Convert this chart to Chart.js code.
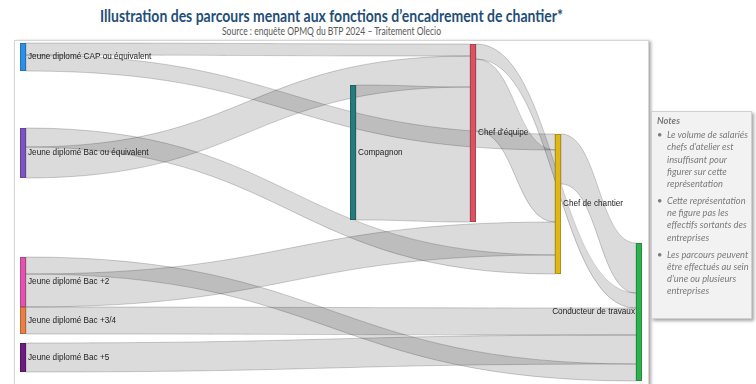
<!DOCTYPE html>
<html><head><meta charset="utf-8">
<script src="https://cdn.jsdelivr.net/npm/chart.js@4.4.1/dist/chart.umd.min.js"></script>
<style>
html,body{margin:0;padding:0;background:#fff;width:756px;height:384px;overflow:hidden;}
body{position:relative;font-family:"Liberation Sans",Arial,sans-serif;}
.fit{position:absolute;white-space:nowrap;transform-origin:0 0;font-family:Lato,"Liberation Sans",sans-serif;}
#title{top:5px;font-weight:bold;font-size:17.5px;color:#1F4E79;}
#sub{top:25px;font-size:10.5px;color:#595959;}
#frame{position:absolute;left:14px;top:40px;width:633px;height:360px;border:1px solid #d6d6d6;box-shadow:2px 1px 3px rgba(0,0,0,0.35);background:#fff;}
#wrap{position:absolute;left:0;top:0;width:756px;height:384px;}
#notes{position:absolute;left:651px;top:111px;width:92px;height:199px;padding:3px 2px 4px 5px;background:#f2f2f2;border:1px solid #d0d0d0;box-shadow:2px 2px 3px rgba(0,0,0,0.35);font-family:Lato,"Liberation Sans",sans-serif;font-style:italic;color:#7a7a7a;font-size:9.3px;line-height:12.2px;white-space:nowrap;}
#notes b{display:block;font-size:9.3px;margin-bottom:2px;}
#notes .li{position:relative;padding-left:10px;margin-bottom:4.8px;}
#notes .li:before{content:"•";position:absolute;left:0;top:0;font-style:normal;}
</style></head>
<body>
<div id="title" class="fit" data-l="100" data-r="563">Illustration des parcours menant aux fonctions d’encadrement de chantier*</div>
<div id="sub" class="fit" data-l="222" data-r="441">Source : enquête OPMQ du BTP 2024 – Traitement Olecio</div>
<div id="frame"></div>
<div id="wrap"><canvas id="c" width="756" height="384"></canvas></div>
<div id="notes"><b>Notes</b>
<div class="li">Le volume de salariés<br>chefs d’atelier est<br>insuffisant pour<br>figurer sur cette<br>représentation</div>
<div class="li">Cette représentation<br>ne figure pas les<br>effectifs sortants des<br>entreprises</div>
<div class="li">Les parcours peuvent<br>être effectués au sein<br>d’une ou plusieurs<br>entreprises</div>
</div>
<script>
// ---- DATA ----
const nodeNames = ["Jeune diplomé CAP ou équivalent","Jeune diplomé Bac ou équivalent","Jeune diplomé Bac +2","Jeune diplomé Bac +3/4","Jeune diplomé Bac +5","Compagnon","Chef d'équipe","Chef de chantier","Conducteur de travaux"];
const linkSource = ["Jeune diplomé CAP ou équivalent","Jeune diplomé CAP ou équivalent","Jeune diplomé Bac ou équivalent","Jeune diplomé Bac ou équivalent","Jeune diplomé Bac +2","Jeune diplomé Bac +2","Jeune diplomé Bac +3/4","Jeune diplomé Bac +5","Compagnon","Chef d'équipe","Chef d'équipe","Chef de chantier"];
const linkTarget = ["Chef d'équipe","Chef de chantier","Chef de chantier","Chef d'équipe","Conducteur de travaux","Chef de chantier","Conducteur de travaux","Conducteur de travaux","Chef d'équipe","Conducteur de travaux","Chef de chantier","Conducteur de travaux"];
const linkValue = [12,16,19,31,17,33,27,29,135,15,72,50];

// ---- LAYOUT / STYLE (not data) ----
const nodeColors = ["#2E8FE8","#7B55C4","#E253AE","#E97F45","#6E1A80","#267C7C","#DB5360","#E2B714","#2DB14E"];
const nodeStage = [0,0,0,0,0,330,450,535,616];      // x scale units
const nodeTop   = [1,86,215,265,301,43,2,92,201];   // y scale units
const inOrder = {6:[0,3,8], 7:[1,10,5,2], 8:[11,9,6,7,4]};
const outOrder = {0:[0,1],1:[2,3],2:[4,5],3:[6],4:[7],5:[8],6:[9,10],7:[11]};
const NODE_W = 6;

document.querySelectorAll('.fit').forEach(el=>{
  const l=+el.dataset.l, r=+el.dataset.r;
  const w=el.getBoundingClientRect().width;
  el.style.left=l+'px';
  el.style.transform='scaleX('+((r-l)/w)+')';
});

const sankeyPlugin = {
  id:'sankey',
  afterDatasetsDraw(chart){
    const ctx = chart.ctx, xs = chart.scales.x, ys = chart.scales.y;
    const n = nodeNames.length;
    const idx = name => nodeNames.indexOf(name);
    const src = linkSource.map(idx), tgt = linkTarget.map(idx);
    const inSum = new Array(n).fill(0), outSum = new Array(n).fill(0);
    linkValue.forEach((v,i)=>{outSum[src[i]]+=v; inSum[tgt[i]]+=v;});
    const nodes = nodeNames.map((nm,i)=>{
      const val = Math.max(inSum[i],outSum[i]);
      return {x:xs.getPixelForValue(nodeStage[i]), y0:ys.getPixelForValue(nodeTop[i]), y1:ys.getPixelForValue(nodeTop[i]+val)};
    });
    const sOff = [], tOff = [];
    for(const k in outOrder){ let acc=nodeTop[k]; outOrder[k].forEach(li=>{sOff[li]=acc; acc+=linkValue[li];}); }
    for(const k in inOrder){ let acc=nodeTop[k]; inOrder[k].forEach(li=>{tOff[li]=acc; acc+=linkValue[li];}); }
    ctx.save();
    linkValue.forEach((v,i)=>{
      const s = nodes[src[i]], t = nodes[tgt[i]];
      const x0 = s.x+NODE_W, x1 = t.x, xm=(x0+x1)/2;
      const a0 = ys.getPixelForValue(sOff[i]), b0 = ys.getPixelForValue(sOff[i]+v);
      const a1 = ys.getPixelForValue(tOff[i]), b1 = ys.getPixelForValue(tOff[i]+v);
      ctx.beginPath();
      ctx.moveTo(x0,a0);
      ctx.bezierCurveTo(xm,a0,xm,a1,x1,a1);
      ctx.lineTo(x1,b1);
      ctx.bezierCurveTo(xm,b1,xm,b0,x0,b0);
      ctx.closePath();
      ctx.fillStyle='rgba(0,0,0,0.14)';
      ctx.fill();
      ctx.strokeStyle='rgba(0,0,0,0.24)';
      ctx.lineWidth=0.8;
      ctx.stroke();
    });
    nodes.forEach((nd,i)=>{
      ctx.fillStyle=nodeColors[i];
      ctx.fillRect(nd.x,nd.y0,NODE_W,nd.y1-nd.y0);
      ctx.strokeStyle='rgba(0,0,0,0.25)';
      ctx.lineWidth=0.8;
      ctx.strokeRect(nd.x+0.4,nd.y0+0.4,NODE_W-0.8,nd.y1-nd.y0-0.8);
    });
    ctx.font='8.2px "Liberation Sans", Arial, sans-serif';
    ctx.fillStyle='#222';
    ctx.textBaseline='middle';
    nodes.forEach((nd,i)=>{
      const ym=(nd.y0+nd.y1)/2;
      if(i===n-1){ ctx.textAlign='right'; ctx.fillText(nodeNames[i], nd.x-1, ym); }
      else { ctx.textAlign='left'; ctx.fillText(nodeNames[i], nd.x+NODE_W+2, ym); }
    });
    ctx.restore();
  }
};

new Chart(document.getElementById('c'),{
  type:'scatter',
  data:{datasets:[{data:[]}]},
  options:{
    responsive:false,animation:false,
    layout:{padding:{left:20,right:114,top:42,bottom:0}},
    plugins:{legend:{display:false},tooltip:{enabled:false},title:{display:false}},
    scales:{
      x:{type:'linear',min:0,max:622,display:false},
      y:{type:'linear',min:0,max:342,reverse:true,display:false}
    }
  },
  plugins:[sankeyPlugin]
});
</script>
</body></html>
